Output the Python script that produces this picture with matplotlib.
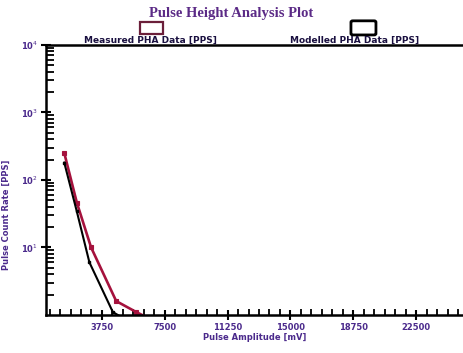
import numpy as np
import matplotlib.pyplot as plt
import matplotlib.patches as mpatches
from matplotlib.ticker import MultipleLocator, LogLocator, NullFormatter

# pulse amplitude [mV] and count rate [PPS]
meas_amp  = [1500, 2250, 3100, 4600, 5800, 6500]
meas_rate = [250, 46, 10, 1.6, 1.1, 0.9]
model_amp  = [1500, 2250, 3000, 4400, 5000]
model_rate = [180, 34, 6, 1.1, 0.9]

x_ticks = [3750, 7500, 11250, 15000, 18750, 22500]
y_ticks = [10, 100, 1000, 10000]
y_tick_labels = ['10$^1$', '10$^2$', '10$^3$', '10$^4$']

RED   = '#a5123d'
INK   = '#4b2a8c'

fig = plt.figure(figsize=(4.63, 3.53), dpi=100)
ax = fig.add_axes([0.099, 0.108, 0.901, 0.765])

ax.plot(meas_amp, meas_rate, color=RED, lw=1.9, marker='s', ms=2.5,
        mfc=RED, mec=RED, mew=0.8)
ax.plot(model_amp, model_rate, color='black', lw=1.5, marker='s', ms=2,
        mfc='black', mec='black')

ax.set_yscale('log')
ax.set_ylim(1, 10000)
ax.set_xlim(400, 25300)

ax.set_xticks(x_ticks)
ax.set_xticklabels([str(v) for v in x_ticks])
ax.xaxis.set_minor_locator(MultipleLocator(625))
ax.set_yticks(y_ticks)
ax.set_yticklabels(y_tick_labels)
ax.yaxis.set_minor_locator(LogLocator(base=10, subs=np.arange(2, 10)))
ax.yaxis.set_minor_formatter(NullFormatter())

ax.tick_params(axis='both', which='major', direction='inout', length=7,
               width=1.5, labelsize=6, labelcolor=INK, pad=2)
ax.tick_params(axis='y', which='minor', direction='in', length=6, width=1.3)
ax.tick_params(axis='x', which='minor', direction='in', length=4, width=1.3)
for lab in ax.get_xticklabels() + ax.get_yticklabels():
    lab.set_fontweight('bold')

for side in ['left', 'bottom', 'top']:
    ax.spines[side].set_linewidth(1.8)
ax.spines['right'].set_visible(False)

ax.set_xlabel('Pulse Amplitude [mV]', fontsize=6, fontweight='bold',
              color=INK, labelpad=1)
ax.set_ylabel('Pulse Count Rate [PPS]', fontsize=6, fontweight='bold',
              color=INK)
ax.yaxis.set_label_coords(-0.085, 0.37)

fig.text(0.50, 0.962, 'Pulse Height Analysis Plot', ha='center', va='center',
         fontsize=10.5, fontweight='bold', color='#5b2a86', family='Liberation Serif')

# legend entries: swatch above label
fig.patches.append(mpatches.FancyBboxPatch((0.302, 0.905), 0.050, 0.032,
                   boxstyle='square,pad=0', fill=False, ec='#6b1f3a', lw=1.6,
                   transform=fig.transFigure))
fig.patches.append(mpatches.FancyBboxPatch((0.762, 0.905), 0.046, 0.032,
                   boxstyle='round,pad=0.004', fill=False, ec='black', lw=2.0,
                   transform=fig.transFigure))
fig.text(0.325, 0.885, 'Measured PHA Data [PPS]', ha='center', va='center',
         fontsize=6.5, fontweight='bold', color='#1a1040')
fig.text(0.765, 0.885, 'Modelled PHA Data [PPS]', ha='center', va='center',
         fontsize=6.5, fontweight='bold', color='#1a1040')

fig.savefig('out.png', dpi=100)
